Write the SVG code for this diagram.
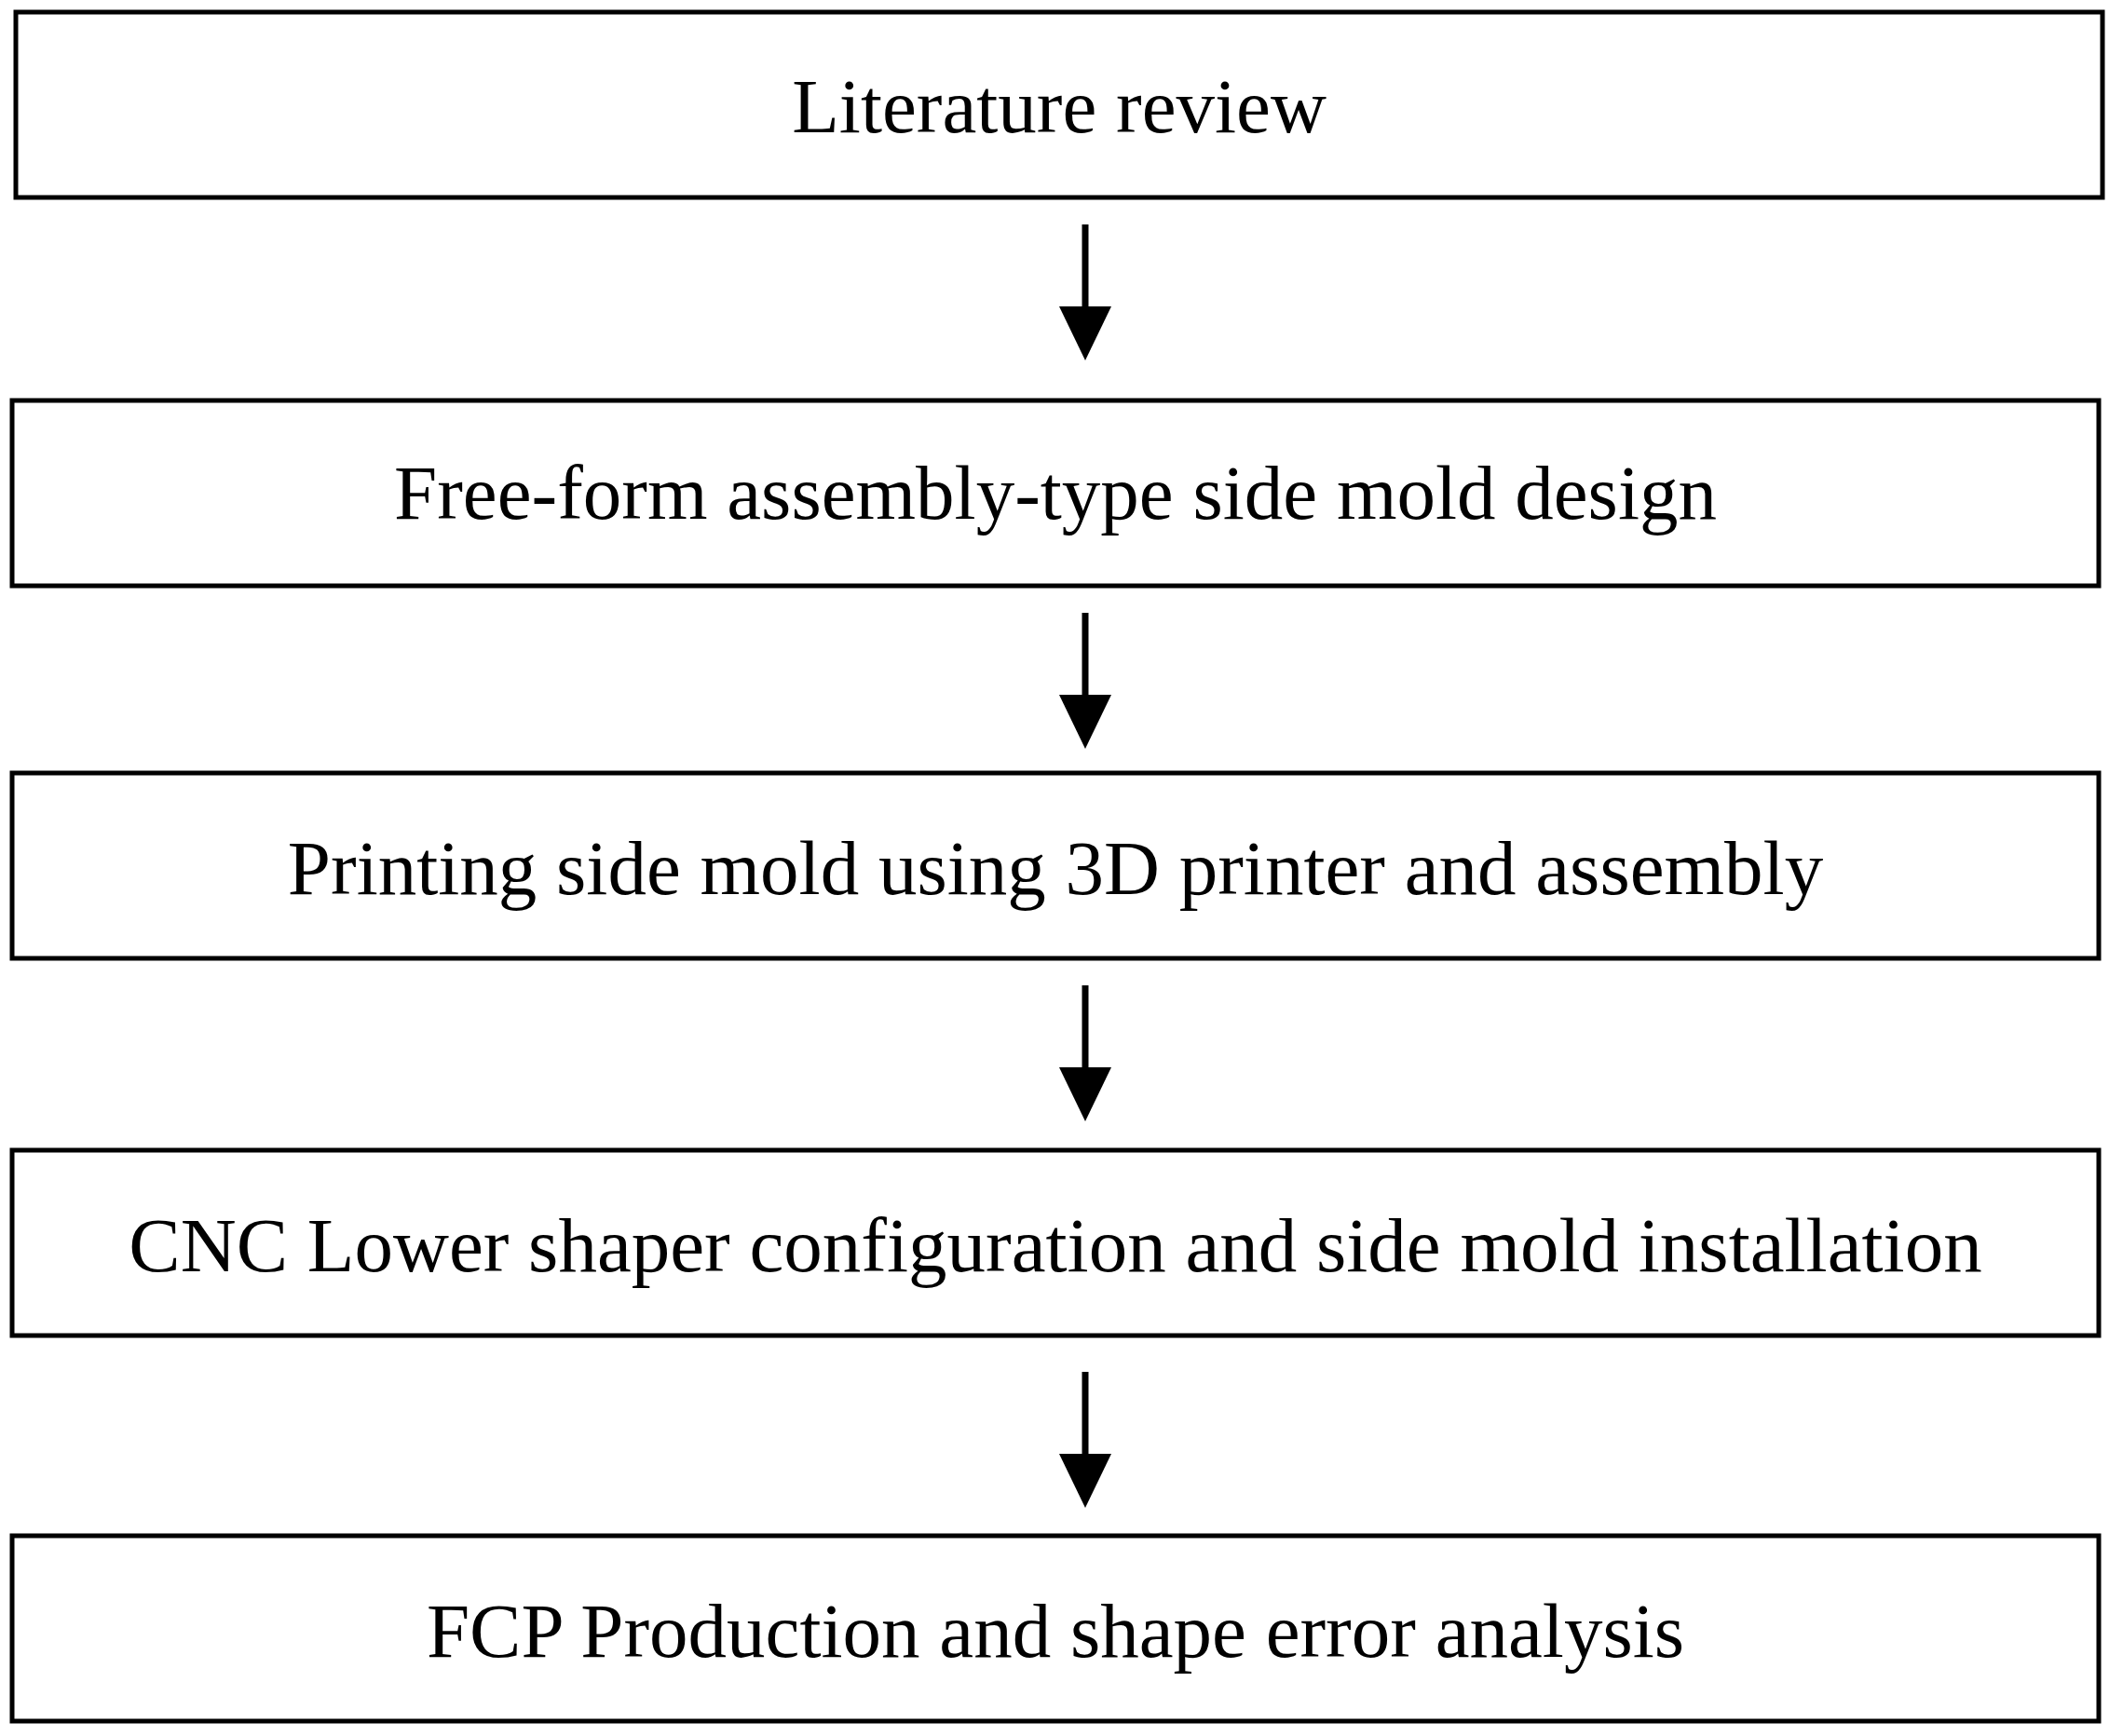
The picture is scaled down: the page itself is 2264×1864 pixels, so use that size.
<svg xmlns="http://www.w3.org/2000/svg" width="2264" height="1864" viewBox="0 0 2264 1864">
<style>
.box{fill:#fff;stroke:#000;stroke-width:5}
.t{font-family:"Liberation Serif",serif;font-size:83px;text-anchor:middle;fill:#000}
.c{stroke:#000;stroke-width:7}
</style>
<defs><marker id="ah" markerUnits="userSpaceOnUse" markerWidth="58" markerHeight="56" refX="1" refY="28" orient="auto" viewBox="0 0 58 56"><path d="M0 0L58 28L0 56Z" fill="#000"/></marker></defs>
<rect width="2264" height="1864" fill="#fff"/>
<g id="n1"><rect class="box" x="17" y="13" width="2240" height="199"/><text class="t" x="1137" y="142">Literature review</text></g>
<g id="n2"><rect class="box" x="13" y="430" width="2240" height="199"/><text class="t" x="1133" y="557">Free-form assembly-type side mold design</text></g>
<g id="n3"><rect class="box" x="13" y="830" width="2240" height="199"/><text class="t" x="1133" y="960">Printing side mold using 3D printer and assembly</text></g>
<g id="n4"><rect class="box" x="13" y="1235" width="2240" height="199"/><text class="t" x="1133" y="1365">CNC Lower shaper configuration and side mold installation</text></g>
<g id="n5"><rect class="box" x="13" y="1649" width="2240" height="199"/><text class="t" x="1133" y="1779">FCP Production and shape error analysis</text></g>
<g id="connectors">
<line class="c" x1="1165" y1="241" x2="1165" y2="330" marker-end="url(#ah)"/>
<line class="c" x1="1165" y1="658" x2="1165" y2="747" marker-end="url(#ah)"/>
<line class="c" x1="1165" y1="1058" x2="1165" y2="1147" marker-end="url(#ah)"/>
<line class="c" x1="1165" y1="1473" x2="1165" y2="1562" marker-end="url(#ah)"/>
</g>
</svg>
